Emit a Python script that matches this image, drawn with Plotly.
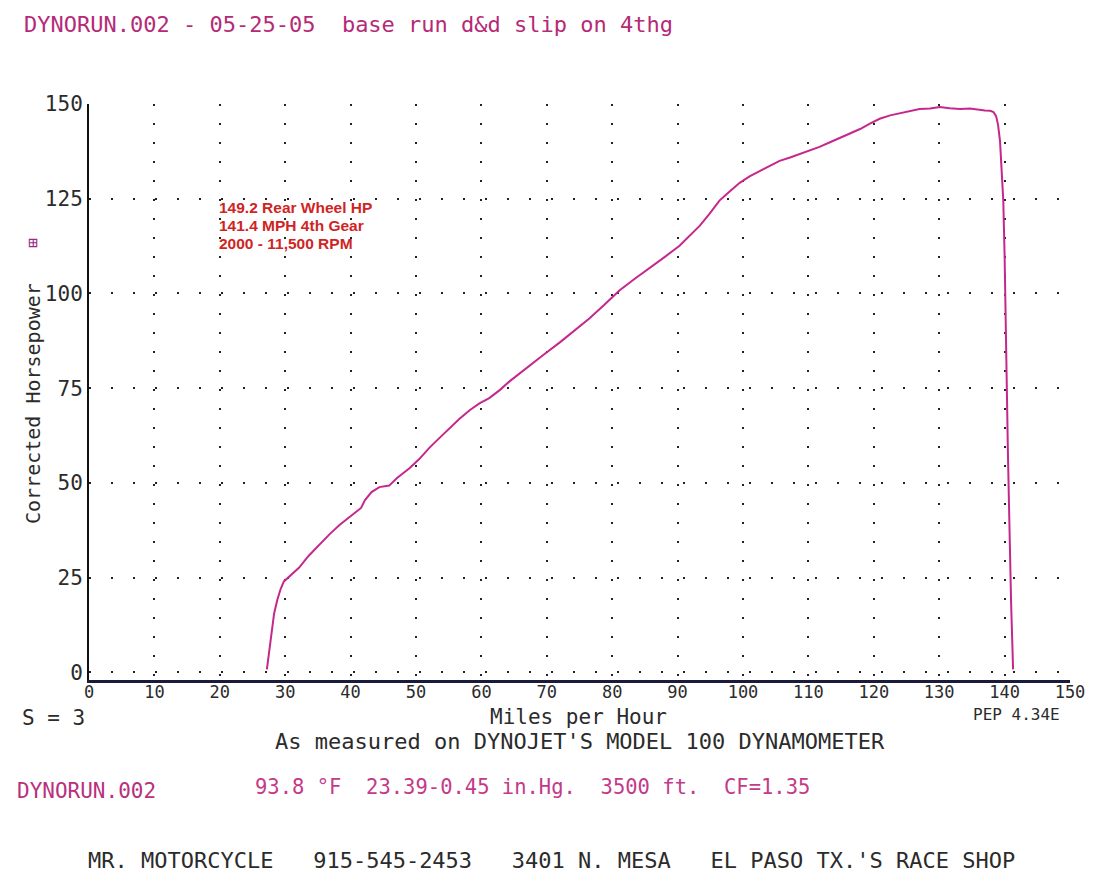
import plotly.graph_objects as go

# dyno run, corrected HP vs road speed
mph = [27.2, 27.5, 27.9, 28.3, 28.8, 29.3, 29.8, 30.6, 32.1, 33.6, 35.2, 36.8, 38.3, 40.0,
       41.6, 42.2, 43.2, 44.4, 45.9, 47.1, 49.0, 50.5, 52.0, 53.6, 55.1, 56.7, 58.2, 59.7,
       61.2, 62.8, 64.3, 65.9, 67.4, 69.7, 72.0, 74.3, 76.5, 78.8, 81.1, 83.4, 85.7, 88.0,
       90.3, 91.8, 93.4, 94.9, 96.4, 98.0, 99.5, 101.0, 102.6, 104.1, 105.6, 107.2, 108.7,
       110.2, 111.7, 113.3, 114.8, 116.3, 117.9, 119.4, 120.9, 122.5, 124.0, 125.5, 127.0,
       128.6, 130.1, 131.6, 133.2, 134.7, 136.2, 137.0, 137.8, 138.3, 138.7, 139.0, 139.3,
       139.6, 139.8, 140.0, 140.1, 140.3, 140.5, 140.7, 140.8, 141.0, 141.3]
hp = [0.8, 5.0, 11.3, 15.5, 19.2, 22.0, 24.0, 25.2, 27.6, 30.8, 33.7, 36.5, 38.9, 41.3,
      43.4, 45.5, 47.6, 48.9, 49.3, 51.3, 53.9, 56.3, 59.2, 61.9, 64.5, 67.0, 69.2, 71.0,
      72.4, 74.5, 76.8, 79.0, 81.1, 84.1, 87.1, 90.3, 93.4, 97.0, 100.8, 103.8, 106.6, 109.6,
      112.6, 115.1, 117.9, 121.1, 124.5, 127.0, 129.2, 130.9, 132.4, 133.8, 135.0, 135.9, 136.8,
      137.7, 138.7, 139.9, 141.0, 142.2, 143.4, 144.8, 146.1, 147.0, 147.6, 148.2, 148.7,
      148.8, 149.2, 148.9, 148.7, 148.8, 148.4, 148.3, 148.2, 147.9, 146.8, 144.5, 140.2,
      132.0, 124.5, 110.0, 98.2, 78.0, 58.7, 42.0, 32.4, 18.0, 0.8]

x_ticks = list(range(0, 151, 10))
y_ticks = [0, 25, 50, 75, 100, 125, 150]

title = "DYNORUN.002 - 05-25-05  base run d&d slip on 4thg"
summary = ["149.2 Rear Wheel HP", "141.4 MPH 4th Gear", "2000 - 11,500 RPM"]
conditions = "93.8 °F  23.39-0.45 in.Hg.  3500 ft.  CF=1.35"
footer = "MR. MOTORCYCLE   915-545-2453   3401 N. MESA   EL PASO TX.'S RACE SHOP"

MONO = "DejaVu Sans Mono"
MAGENTA = "#b52a78"
INK = "#2b2b2b"

fig = go.Figure()
fig.add_trace(go.Scatter(x=mph, y=hp, mode="lines",
                         line=dict(color="#c4288c", width=2), showlegend=False))

fig.update_xaxes(range=[0, 150], tickvals=x_ticks, showgrid=True,
                 gridcolor="#222", gridwidth=2, griddash="2px,17px",
                 zeroline=False, showline=True, linecolor="#1a1a3a", linewidth=3,
                 ticklabelstandoff=-5,
                 tickfont=dict(family=MONO, size=17, color=INK))
fig.update_yaxes(range=[-2, 150], tickvals=y_ticks, showgrid=True,
                 gridcolor="#222", gridwidth=2, griddash="2px,20px",
                 zeroline=False, showline=True, linecolor="#111", linewidth=2,
                 tickfont=dict(family=MONO, size=21, color=INK))

ann = []
def txt(x, y, s, size=18, color=INK, xanchor="left", family=MONO, angle=0):
    ann.append(dict(x=px(x), y=py(y), xref="paper", yref="paper", text=s, showarrow=False,
                    xanchor=xanchor, yanchor="middle", textangle=angle,
                    font=dict(family=family, size=size, color=color)))

# page is shown with an 8px body margin, so the figure is drawn 8px smaller
OFF = 8
W, H = 1104 - OFF, 891 - OFF
L, R, T, B = 89, 1070, 104, 680
def px(x): return (x - L) / (R - L)
def py(y): return (B - y) / (B - T)

txt(22, 24, title, size=22, color=MAGENTA)
for i, line in enumerate(summary):
    txt(217, 207 + 18 * i, "<b>" + line + "</b>", size=15.5, color="#d02424",
        family="Liberation Sans, Arial")
txt(33, 404, "Corrected Horsepower", size=20, color=INK, xanchor="center", angle=-90)
txt(33, 242, "⊞", size=16, color="#9a2a8a", xanchor="center")
txt(20, 718, "S = 3", size=21)
txt(578, 717, "Miles per Hour", size=21, xanchor="center")
txt(1062, 714, "PEP 4.34E", size=16, xanchor="right")
txt(580, 741, "As measured on DYNOJET'S MODEL 100 DYNAMOMETER", size=22, xanchor="center")
txt(15, 791, "DYNORUN.002", size=21, color="#b8307e")
txt(253, 787, conditions, size=20.5, color="#c43a8a")
txt(86, 860, footer, size=22, color=INK)

fig.update_layout(
    width=W, height=H,
    margin=dict(l=L - OFF, r=1104 - R, t=T - OFF, b=891 - B),
    paper_bgcolor="white", plot_bgcolor="white",
    annotations=ann,
)
fig.write_html("out.html")
